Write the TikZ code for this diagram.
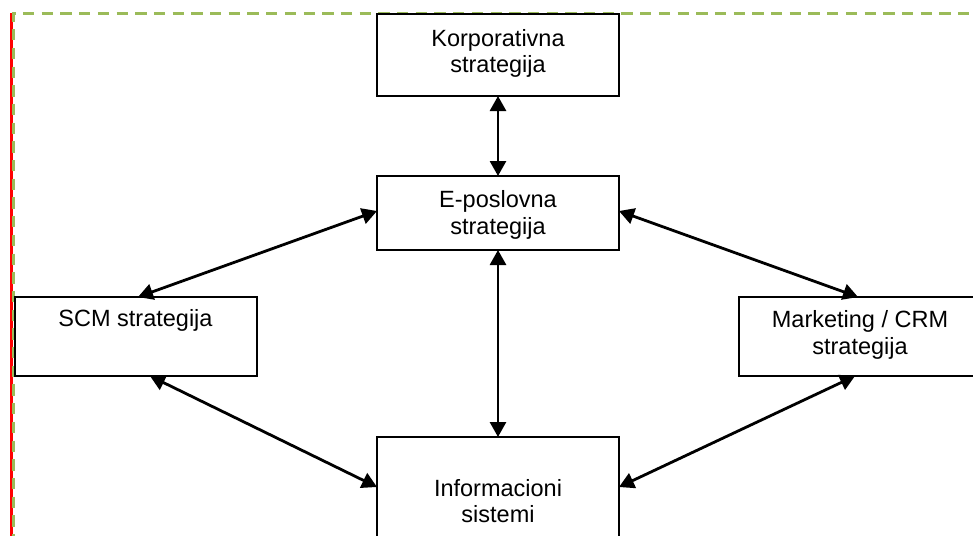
\documentclass[tikz,border=0pt]{standalone}
\usepackage{fontspec}
\setmainfont{Liberation Sans}
\usetikzlibrary{arrows.meta}

\definecolor{frameGreen}{RGB}{155,187,89}
\definecolor{frameRed}{RGB}{255,0,0}

\tikzset{
  stratbox/.style={draw=black, line width=2pt, rectangle, inner sep=0pt, outer sep=0pt,
                   minimum width=242pt, minimum height=#1},
  boxtext/.style={anchor=base, align=center, inner sep=0pt,
                  font=\fontsize{23.5}{26.5}\selectfont},
  link/.style={line width=2.8pt, {Triangle[length=15pt,width=16pt]}-{Triangle[length=15pt,width=16pt]}},
  greendash/.style={draw=frameGreen, line width=2.6pt, dash pattern=on 11.3pt off 7.4pt}
}

\begin{document}
\begin{tikzpicture}[x=1pt, y=-1pt]
  \useasboundingbox (0,0) rectangle (973,535);

  % page frame: red margin line and green dashed border
  \draw[frameRed, line width=2.6pt] (11.4,13) -- (11.4,540);
  \draw[greendash, dash phase=7.7pt] (12,13.5) -- (980,13.5);
  \draw[greendash, dash phase=2.3pt] (13.5,12.7) -- (13.5,540);

  % strategy boxes
  \node[stratbox=82pt] (kor) at (498,55) {};
  \node[stratbox=74pt] (epo) at (498,213) {};
  \node[stratbox=79pt] (scm) at (135.5,336.5) {};
  \node[stratbox=79pt] (mkt) at (860,336.5) {};
  \node[stratbox=100pt] (inf) at (498,487) {};

  % box labels (base anchor sits on the last line)
  \node[boxtext] (korT) at (498,72.7) {Korporativna\\strategija};
  \node[boxtext] (epoT) at (498,234) {E-poslovna\\strategija};
  \node[boxtext] (scmT) at (135.5,326.7) {SCM strategija};
  \node[boxtext] (mktT) at (860,354) {Marketing / CRM\\strategija};
  \node[boxtext] (infT) at (498,522.7) {Informacioni\\sistemi};

  % two-way links
  \draw[link] (kor.south) -- (epo.north);
  \draw[link] (epo.south) -- (inf.north);
  \draw[link] ([yshift=2pt]epo.west) -- ([xshift=2.5pt]scm.north);
  \draw[link] ([yshift=2pt]epo.east) -- ([xshift=-2pt]mkt.north);
  \draw[link] ([xshift=14.5pt]scm.south) -- (inf.west);
  \draw[link] ([xshift=-5pt]mkt.south) -- (inf.east);
\end{tikzpicture}
\end{document}
